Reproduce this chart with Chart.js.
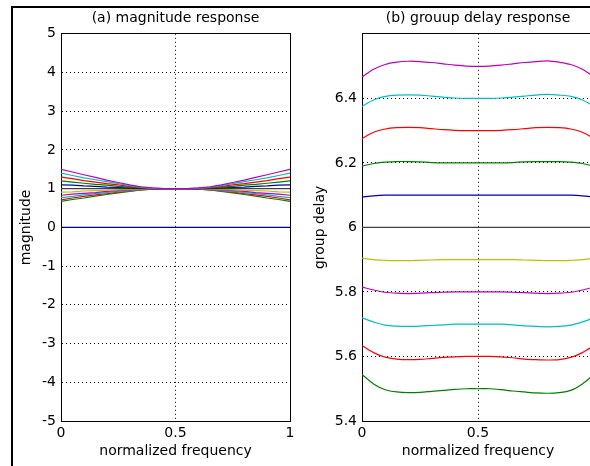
<!DOCTYPE html>
<html lang="en">
<head>
<meta charset="UTF-8">
<title>magnitude and group delay response</title>
<script src="https://cdn.jsdelivr.net/npm/chart.js@4.4.1/dist/chart.umd.min.js"></script>
<style>
  html, body { margin: 0; padding: 0; background: #fff; overflow: hidden; }
  body { width: 590px; height: 466px; position: relative; }
  #frame { position: absolute; left: 11px; top: 6px; width: 700px; height: 600px;
           border-left: 2px solid #000; border-top: 2px solid #000; }
  #mag { position: absolute; left: 0; top: 0; }
  #gd { position: absolute; left: 300px; top: 0; }
</style>
</head>
<body>
<div id="frame"></div>
<canvas id="mag" width="300" height="466"></canvas>
<canvas id="gd" width="310" height="466"></canvas>

<script>
// frequency grid shared by both plots
var freq = [0, 0.05, 0.1, 0.15, 0.2, 0.25, 0.3, 0.35, 0.4, 0.45, 0.5,
            0.55, 0.6, 0.65, 0.7, 0.75, 0.8, 0.85, 0.9, 0.95, 1];
var xTicks = [0, 0.5, 1];

// (a) magnitude response, one row per curve
var magTicks = [-5, -4, -3, -2, -1, 0, 1, 2, 3, 4, 5];
var magColors = ['#0000b0', '#008000', '#ff0000', '#00bfbf', '#bf00bf', '#bfbf00',
                 '#404040', '#0000b0', '#008000', '#ff0000', '#00bfbf', '#bf00bf'];
var magLines = [
  [0,0,0,0,0,0,0,0,0,0,0,0,0,0,0,0,0,0,0,0,0],
  [0.67,0.72,0.76,0.81,0.85,0.89,0.93,0.97,0.99,1,1,1,0.99,0.97,0.93,0.89,0.85,0.81,0.76,0.72,0.67],
  [0.71,0.76,0.8,0.84,0.87,0.91,0.94,0.97,0.99,1,1,1,0.99,0.97,0.94,0.91,0.87,0.84,0.8,0.76,0.71],
  [0.77,0.8,0.84,0.87,0.9,0.93,0.95,0.98,0.99,1,1,1,0.99,0.98,0.95,0.93,0.9,0.87,0.84,0.8,0.77],
  [0.83,0.86,0.88,0.9,0.93,0.95,0.97,0.98,0.99,1,1,1,0.99,0.98,0.97,0.95,0.93,0.9,0.88,0.86,0.83],
  [0.91,0.92,0.94,0.95,0.96,0.97,0.98,0.99,1,1,1,1,1,0.99,0.98,0.97,0.96,0.95,0.94,0.92,0.91],
  [1,1,1,1,1,1,1,1,1,1,1,1,1,1,1,1,1,1,1,1,1],
  [1.1,1.09,1.07,1.06,1.04,1.03,1.02,1.01,1,1,1,1,1,1.01,1.02,1.03,1.04,1.06,1.07,1.09,1.1],
  [1.2,1.17,1.14,1.11,1.09,1.06,1.04,1.02,1.01,1,1,1,1.01,1.02,1.04,1.06,1.09,1.11,1.14,1.17,1.2],
  [1.3,1.26,1.21,1.17,1.13,1.1,1.06,1.03,1.01,1,1,1,1.01,1.03,1.06,1.1,1.13,1.17,1.21,1.26,1.3],
  [1.4,1.34,1.28,1.23,1.18,1.13,1.08,1.04,1.01,1,1,1,1.01,1.04,1.08,1.13,1.18,1.23,1.28,1.34,1.4],
  [1.5,1.43,1.36,1.29,1.22,1.16,1.1,1.05,1.02,1,1,1,1.02,1.05,1.1,1.16,1.22,1.29,1.36,1.43,1.5]
];

// (b) group delay response
var gdTicks = [5.4, 5.6, 5.8, 6, 6.2, 6.4];
var gdColors = ['#008000', '#ff0000', '#00bfbf', '#bf00bf', '#bfbf00', '#404040',
                '#0000b0', '#008000', '#ff0000', '#00bfbf', '#bf00bf'];
var gdLines = [
  [5.544,5.515,5.497,5.49,5.488,5.489,5.492,5.495,5.498,5.5,5.5,5.5,5.497,5.493,5.49,5.487,5.486,5.488,5.495,5.515,5.544],
  [5.634,5.612,5.598,5.592,5.59,5.591,5.594,5.597,5.599,5.6,5.6,5.6,5.599,5.596,5.592,5.59,5.589,5.59,5.597,5.612,5.634],
  [5.72,5.707,5.697,5.694,5.693,5.694,5.696,5.698,5.7,5.7,5.7,5.7,5.7,5.698,5.695,5.693,5.692,5.693,5.697,5.707,5.72],
  [5.815,5.806,5.799,5.796,5.795,5.796,5.798,5.799,5.8,5.8,5.8,5.8,5.8,5.799,5.798,5.796,5.795,5.796,5.799,5.806,5.815],
  [5.905,5.9,5.898,5.897,5.897,5.898,5.899,5.9,5.9,5.9,5.9,5.9,5.9,5.9,5.899,5.898,5.897,5.897,5.898,5.9,5.905],
  [6,6,6,6,6,6,6,6,6,6,6,6,6,6,6,6,6,6,6,6,6],
  [6.094,6.098,6.1,6.1,6.1,6.1,6.1,6.1,6.1,6.1,6.1,6.1,6.1,6.1,6.1,6.1,6.1,6.1,6.1,6.098,6.094],
  [6.19,6.198,6.202,6.204,6.204,6.203,6.201,6.2,6.2,6.2,6.2,6.2,6.2,6.201,6.203,6.204,6.204,6.204,6.202,6.198,6.19],
  [6.275,6.295,6.305,6.309,6.31,6.309,6.306,6.303,6.301,6.3,6.3,6.3,6.301,6.303,6.306,6.309,6.31,6.309,6.305,6.295,6.275],
  [6.375,6.395,6.406,6.41,6.411,6.41,6.407,6.404,6.401,6.4,6.4,6.4,6.401,6.404,6.407,6.41,6.412,6.41,6.406,6.395,6.375],
  [6.466,6.49,6.505,6.512,6.515,6.514,6.511,6.507,6.503,6.5,6.499,6.5,6.503,6.507,6.511,6.514,6.516,6.512,6.505,6.49,6.466]
];

Chart.defaults.font.family = 'DejaVu Sans';
Chart.defaults.font.size = 14;
Chart.defaults.color = '#000';

function lines(rows, colors, tension) {
  return rows.map(function (row, i) {
    return {
      data: row.map(function (v, j) { return { x: freq[j], y: v }; }),
      borderColor: colors[i],
      borderWidth: 1.2,
      pointRadius: 0,
      tension: tension,
      order: rows.length - i   // later curves on top, like matlab
    };
  });
}

function options(title, yTitle, ymin, ymax, yTicks, axisW, rightPad, titlePadX) {
  var edge = function (lo, hi) {
    return function (ctx) {
      if (!ctx.tick) return '#000';
      var v = ctx.tick.value;
      return (Math.abs(v - lo) < 1e-9 || Math.abs(v - hi) < 1e-9) ? 'rgba(0,0,0,0)' : '#000';
    };
  };
  return {
    responsive: false,
    animation: false,
    layout: { padding: { left: 0, right: rightPad, top: 0, bottom: 0 } },
    plugins: {
      legend: { display: false },
      tooltip: { enabled: false },
      title: {
        display: true, text: title, fullSize: false,
        font: { size: 14, weight: 'normal' },
        padding: { top: 10, bottom: 7 }
      }
    },
    scales: {
      x: {
        type: 'linear', min: 0, max: 1,
        afterBuildTicks: function (s) { s.ticks = xTicks.map(function (v) { return { value: v }; }); },
        afterFit: function (s) { s.height = 45; },
        ticks: { padding: 4, maxRotation: 0, callback: function (v) { return String(v); } },
        grid: { color: edge(0, 1), drawTicks: false },
        border: { color: '#000', dash: [1, 3] },
        title: { display: true, text: 'normalized frequency', padding: { top: 0, bottom: 6 } }
      },
      y: {
        type: 'linear', min: ymin, max: ymax,
        afterBuildTicks: function (s) { s.ticks = yTicks.map(function (v) { return { value: v }; }); },
        afterFit: function (s) { s.width = axisW; },
        ticks: { padding: 5, callback: function (v) { return String(v); } },
        grid: { color: edge(ymin, ymax), drawTicks: false },
        border: { color: '#000', dash: [1, 3] },
        title: { display: true, text: yTitle, padding: { top: titlePadX, bottom: 0 } }
      },
      x2: {
        type: 'linear', position: 'top', min: 0, max: 1,
        ticks: { display: false }, grid: { display: false },
        border: { color: '#000' },
        afterFit: function (s) { s.height = 0; }
      },
      y2: {
        type: 'linear', position: 'right', min: ymin, max: ymax,
        ticks: { display: false }, grid: { display: false },
        border: { color: '#000' },
        afterFit: function (s) { s.width = 0; }
      }
    }
  };
}

new Chart(document.getElementById('mag'), {
  type: 'line',
  data: { datasets: lines(magLines, magColors, 0) },
  options: options('(a) magnitude response', 'magnitude', -5, 5, magTicks, 61, 10, 17.5)
});

new Chart(document.getElementById('gd'), {
  type: 'line',
  data: { datasets: lines(gdLines, gdColors, 0.3) },
  options: options('(b) grouup delay response', 'group delay', 5.4, 6.6, gdTicks, 62, 16, 11.5)
});
</script>
</body>
</html>
